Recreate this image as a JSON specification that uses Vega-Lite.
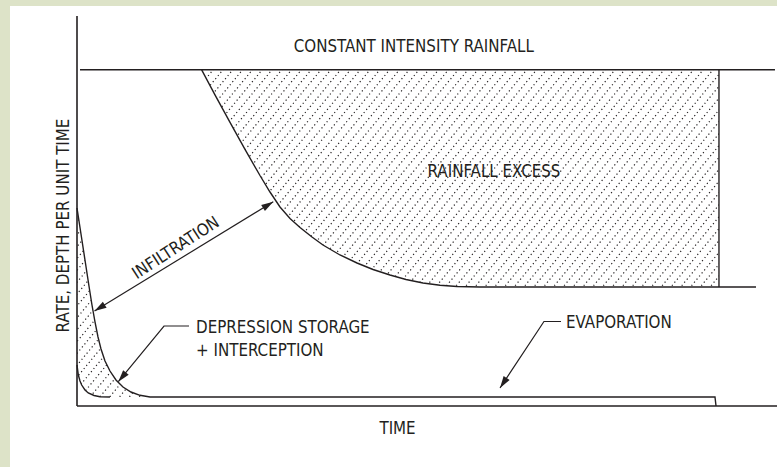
{
  "$schema": "https://vega.github.io/schema/vega-lite/v6.json",
  "width": 700,
  "height": 390,
  "autosize": {"type": "none"},
  "padding": {"left": 77, "top": 16, "right": 0, "bottom": 61},
  "background": "#ffffff",
  "config": {
    "view": {"stroke": null},
    "axis": {"disable": true},
    "text": {"font": "DejaVu Sans Condensed, Liberation Sans, sans-serif", "fontSize": 16.8, "color": "#231f20"}
  },
  "datasets": {
    "green": [{"t": -11, "t2": -9.571, "r": -15.7, "r2": 104.2}, {"t": -11, "t2": 100, "r": 102.56, "r2": 104.2}],
    "hatch": [
      {"t": -27.2, "t2": 18.8}, {"t": -25.8, "t2": 20.2}, {"t": -24.4, "t2": 21.6}, {"t": -23.0, "t2": 23.0}, {"t": -21.6, "t2": 24.4},
      {"t": -20.2, "t2": 25.8}, {"t": -18.8, "t2": 27.2}, {"t": -17.4, "t2": 28.6}, {"t": -16.0, "t2": 30.0}, {"t": -14.6, "t2": 31.4},
      {"t": -13.2, "t2": 32.8}, {"t": -11.8, "t2": 34.2}, {"t": -10.4, "t2": 35.6}, {"t": -9.0, "t2": 37.0}, {"t": -7.6, "t2": 38.4},
      {"t": -6.2, "t2": 39.8}, {"t": -4.8, "t2": 41.2}, {"t": -3.4, "t2": 42.6}, {"t": -2.0, "t2": 44.0}, {"t": -0.6, "t2": 45.4},
      {"t": 0.8, "t2": 46.8}, {"t": 2.2, "t2": 48.2}, {"t": 3.6, "t2": 49.6}, {"t": 5.0, "t2": 51.0}, {"t": 6.4, "t2": 52.4},
      {"t": 7.8, "t2": 53.8}, {"t": 9.2, "t2": 55.2}, {"t": 10.6, "t2": 56.6}, {"t": 12.0, "t2": 58.0}, {"t": 13.4, "t2": 59.4},
      {"t": 14.8, "t2": 60.8}, {"t": 16.2, "t2": 62.2}, {"t": 17.6, "t2": 63.6}, {"t": 19.0, "t2": 65.0}, {"t": 20.4, "t2": 66.4},
      {"t": 21.8, "t2": 67.8}, {"t": 23.2, "t2": 69.2}, {"t": 24.6, "t2": 70.6}, {"t": 26.0, "t2": 72.0}, {"t": 27.4, "t2": 73.4},
      {"t": 28.8, "t2": 74.8}, {"t": 30.2, "t2": 76.2}, {"t": 31.6, "t2": 77.6}, {"t": 33.0, "t2": 79.0}, {"t": 34.4, "t2": 80.4},
      {"t": 35.8, "t2": 81.8}, {"t": 37.2, "t2": 83.2}, {"t": 38.6, "t2": 84.6}, {"t": 40.0, "t2": 86.0}, {"t": 41.4, "t2": 87.4},
      {"t": 42.8, "t2": 88.8}, {"t": 44.2, "t2": 90.2}, {"t": 45.6, "t2": 91.6}, {"t": 47.0, "t2": 93.0}, {"t": 48.4, "t2": 94.4},
      {"t": 49.8, "t2": 95.8}, {"t": 51.2, "t2": 97.2}, {"t": 52.6, "t2": 98.6}, {"t": 54.0, "t2": 100.0}, {"t": 55.4, "t2": 101.4},
      {"t": 56.8, "t2": 102.8}, {"t": 58.2, "t2": 104.2}, {"t": 59.6, "t2": 105.6}, {"t": 61.0, "t2": 107.0}, {"t": 62.4, "t2": 108.4},
      {"t": 63.8, "t2": 109.8}, {"t": 65.2, "t2": 111.2}, {"t": 66.6, "t2": 112.6}, {"t": 68.0, "t2": 114.0}, {"t": 69.4, "t2": 115.4},
      {"t": 70.8, "t2": 116.8}, {"t": 72.2, "t2": 118.2}, {"t": 73.6, "t2": 119.6}, {"t": 75.0, "t2": 121.0}, {"t": 76.4, "t2": 122.4},
      {"t": 77.8, "t2": 123.8}
    ],
    "maskRect": [{"t": 0, "t2": 100, "r": 86.2, "r2": 100}, {"t": 91.71, "t2": 100, "r": 0, "r2": 86.2}],
    "maskC": [
      {"t": 0, "r": 86.2, "r2": 50.77}, {"t": 0.57, "r": 86.2, "r2": 44.10}, {"t": 1.14, "r": 86.2, "r2": 37.44},
      {"t": 1.71, "r": 86.2, "r2": 30.77}, {"t": 2.14, "r": 86.2, "r2": 25.90}, {"t": 2.57, "r": 86.2, "r2": 21.54},
      {"t": 3.0, "r": 86.2, "r2": 17.69}, {"t": 3.43, "r": 86.2, "r2": 14.62}, {"t": 4.0, "r": 86.2, "r2": 11.54},
      {"t": 4.71, "r": 86.2, "r2": 8.97}, {"t": 5.57, "r": 86.2, "r2": 6.67}, {"t": 6.57, "r": 86.2, "r2": 4.87},
      {"t": 7.71, "r": 86.2, "r2": 3.59}, {"t": 9.0, "r": 86.2, "r2": 2.74}, {"t": 10.43, "r": 86.2, "r2": 2.31},
      {"t": 10.6, "r": 86.2, "r2": 0}, {"t": 17.81, "r": 86.2, "r2": 0},
      {"t": 19.71, "r": 79.79, "r2": 0}, {"t": 21.86, "r": 72.74, "r2": 0}, {"t": 24.0, "r": 65.82, "r2": 0},
      {"t": 26.14, "r": 59.10, "r2": 0}, {"t": 27.57, "r": 54.87, "r2": 0}, {"t": 29.0, "r": 51.03, "r2": 0},
      {"t": 30.43, "r": 48.08, "r2": 0}, {"t": 31.86, "r": 45.77, "r2": 0}, {"t": 33.57, "r": 43.33, "r2": 0},
      {"t": 35.14, "r": 41.28, "r2": 0}, {"t": 37.57, "r": 38.72, "r2": 0}, {"t": 40.0, "r": 36.67, "r2": 0},
      {"t": 42.29, "r": 35.0, "r2": 0}, {"t": 44.71, "r": 33.59, "r2": 0}, {"t": 47.0, "r": 32.44, "r2": 0},
      {"t": 49.43, "r": 31.54, "r2": 0}, {"t": 51.86, "r": 30.95, "r2": 0}, {"t": 54.29, "r": 30.64, "r2": 0},
      {"t": 57.57, "r": 30.51, "r2": 0}, {"t": 100, "r": 30.5, "r2": 0}
    ],
    "maskD": [
      {"t": 0, "r": 10.51, "r2": 0}, {"t": 0.19, "r": 7.95, "r2": 0}, {"t": 0.43, "r": 6.41, "r2": 0},
      {"t": 0.67, "r": 5.38, "r2": 0}, {"t": 1.14, "r": 4.10, "r2": 0}, {"t": 1.61, "r": 3.33, "r2": 0},
      {"t": 2.43, "r": 2.69, "r2": 0}, {"t": 3.29, "r": 2.38, "r2": 0}, {"t": 4.71, "r": 2.31, "r2": 0},
      {"t": 12, "r": 2.31, "r2": 0}
    ],
    "axes": [{"t": 0, "t2": 0, "r": 0, "r2": 100}, {"t": 0, "t2": 100, "r": 0, "r2": 0}],
    "excess": [
      {"t": 17.81, "r": 86.2}, {"t": 19.71, "r": 79.79}, {"t": 21.86, "r": 72.74}, {"t": 24.0, "r": 65.82},
      {"t": 26.14, "r": 59.10}, {"t": 27.57, "r": 54.87}, {"t": 29.0, "r": 51.03}, {"t": 30.43, "r": 48.08},
      {"t": 31.86, "r": 45.77}, {"t": 33.57, "r": 43.33}, {"t": 35.14, "r": 41.28}, {"t": 37.57, "r": 38.72},
      {"t": 40.0, "r": 36.67}, {"t": 42.29, "r": 35.0}, {"t": 44.71, "r": 33.59}, {"t": 47.0, "r": 32.44},
      {"t": 49.43, "r": 31.54}, {"t": 51.86, "r": 30.95}, {"t": 54.29, "r": 30.64}, {"t": 57.57, "r": 30.51},
      {"t": 97.0, "r": 30.5}
    ],
    "outer": [
      {"t": 0, "r": 50.77}, {"t": 0.57, "r": 44.10}, {"t": 1.14, "r": 37.44}, {"t": 1.71, "r": 30.77},
      {"t": 2.14, "r": 25.90}, {"t": 2.57, "r": 21.54}, {"t": 3.0, "r": 17.69}, {"t": 3.43, "r": 14.62},
      {"t": 4.0, "r": 11.54}, {"t": 4.71, "r": 8.97}, {"t": 5.57, "r": 6.67}, {"t": 6.57, "r": 4.87},
      {"t": 7.71, "r": 3.59}, {"t": 9.0, "r": 2.74}, {"t": 10.43, "r": 2.31}, {"t": 91.14, "r": 2.31},
      {"t": 91.29, "r": 0}
    ],
    "inner": [
      {"t": 0, "r": 10.51}, {"t": 0.19, "r": 7.95}, {"t": 0.43, "r": 6.41}, {"t": 0.67, "r": 5.38},
      {"t": 1.14, "r": 4.10}, {"t": 1.61, "r": 3.33}, {"t": 2.43, "r": 2.69}, {"t": 3.29, "r": 2.38},
      {"t": 4.71, "r": 2.31}
    ],
    "rain": [{"t": 0.43, "t2": 99.71, "r": 86.2}],
    "edge": [{"t": 91.71, "r": 30.5, "r2": 86.2}],
    "arrowInf": [{"i": 0, "t": 2.5, "r": 24.36}, {"i": 1, "t": 28.04, "r": 52.38}],
    "arrowDep": [{"i": 0, "t": 16.0, "r": 20.51}, {"i": 1, "t": 12.43, "r": 20.51}, {"i": 2, "t": 5.9, "r": 6.23}],
    "arrowEvap": [{"i": 0, "t": 69.14, "r": 21.67}, {"i": 1, "t": 66.71, "r": 21.67}, {"i": 2, "t": 60.43, "r": 4.62}],
    "labelsCenter": [
      {"label": "CONSTANT INTENSITY RAINFALL", "t": 48.11, "r": 90.87},
      {"label": "RAINFALL EXCESS", "t": 59.57, "r": 58.74},
      {"label": "TIME", "t": 45.79, "r": -7.18}
    ],
    "labelsLeft": [
      {"label": "DEPRESSION STORAGE", "t": 17.0, "r": 18.64},
      {"label": "+ INTERCEPTION", "t": 17.0, "r": 12.9},
      {"label": "EVAPORATION", "t": 69.86, "r": 20.0}
    ],
    "labelInf": [{"label": "INFILTRATION", "t": 14.14, "r": 40.51}],
    "labelY": [{"label": "RATE, DEPTH PER UNIT TIME", "t": -1.2, "r": 46.28}]
  },
  "layer": [
    {
      "data": {"name": "hatch"},
      "mark": {"type": "rule", "clip": true, "color": "#231f20", "strokeWidth": 1.2, "strokeDash": [1.2, 2.8]},
      "encoding": {
        "x": {"field": "t", "type": "quantitative", "scale": {"domain": [0, 100], "nice": false, "zero": false}, "axis": null},
        "x2": {"field": "t2"},
        "y": {"datum": 0, "type": "quantitative", "scale": {"domain": [0, 100], "nice": false, "zero": false}, "axis": null},
        "y2": {"datum": 100}
      }
    },
    {
      "data": {"name": "green"},
      "mark": {"type": "rect", "fill": "#dde3c8", "stroke": null},
      "encoding": {
        "x": {"field": "t", "type": "quantitative", "axis": null}, "x2": {"field": "t2"},
        "y": {"field": "r", "type": "quantitative", "axis": null}, "y2": {"field": "r2"}
      }
    },
    {
      "data": {"name": "maskRect"},
      "mark": {"type": "rect", "fill": "#ffffff", "stroke": null},
      "encoding": {
        "x": {"field": "t", "type": "quantitative", "axis": null}, "x2": {"field": "t2"},
        "y": {"field": "r", "type": "quantitative", "axis": null}, "y2": {"field": "r2"}
      }
    },
    {
      "data": {"name": "maskC"},
      "mark": {"type": "area", "fill": "#ffffff", "opacity": 1, "interpolate": "linear"},
      "encoding": {
        "x": {"field": "t", "type": "quantitative", "axis": null},
        "y": {"field": "r", "type": "quantitative", "axis": null}, "y2": {"field": "r2"}
      }
    },
    {
      "data": {"name": "maskD"},
      "mark": {"type": "area", "fill": "#ffffff", "opacity": 1, "interpolate": "linear"},
      "encoding": {
        "x": {"field": "t", "type": "quantitative", "axis": null},
        "y": {"field": "r", "type": "quantitative", "axis": null}, "y2": {"field": "r2"}
      }
    },
    {
      "data": {"name": "axes"},
      "mark": {"type": "rule", "color": "#231f20", "strokeWidth": 1.6},
      "encoding": {
        "x": {"field": "t", "type": "quantitative", "axis": null}, "x2": {"field": "t2"},
        "y": {"field": "r", "type": "quantitative", "axis": null}, "y2": {"field": "r2"}
      }
    },
    {
      "data": {"name": "rain"},
      "mark": {"type": "rule", "color": "#231f20", "strokeWidth": 1.4},
      "encoding": {
        "x": {"field": "t", "type": "quantitative", "axis": null}, "x2": {"field": "t2"},
        "y": {"field": "r", "type": "quantitative", "axis": null}
      }
    },
    {
      "data": {"name": "edge"},
      "mark": {"type": "rule", "color": "#231f20", "strokeWidth": 1.4},
      "encoding": {
        "x": {"field": "t", "type": "quantitative", "axis": null},
        "y": {"field": "r", "type": "quantitative", "axis": null}, "y2": {"field": "r2"}
      }
    },
    {
      "data": {"name": "excess"},
      "mark": {"type": "line", "color": "#231f20", "strokeWidth": 1.4, "interpolate": "linear"},
      "encoding": {
        "x": {"field": "t", "type": "quantitative", "axis": null},
        "y": {"field": "r", "type": "quantitative", "axis": null}
      }
    },
    {
      "data": {"name": "outer"},
      "mark": {"type": "line", "color": "#231f20", "strokeWidth": 1.4, "interpolate": "linear"},
      "encoding": {
        "x": {"field": "t", "type": "quantitative", "axis": null},
        "y": {"field": "r", "type": "quantitative", "axis": null}
      }
    },
    {
      "data": {"name": "inner"},
      "mark": {"type": "line", "color": "#231f20", "strokeWidth": 1.4, "interpolate": "linear"},
      "encoding": {
        "x": {"field": "t", "type": "quantitative", "axis": null},
        "y": {"field": "r", "type": "quantitative", "axis": null}
      }
    },
    {
      "data": {"name": "arrowInf"},
      "mark": {"type": "line", "color": "#231f20", "strokeWidth": 1.2},
      "encoding": {
        "x": {"field": "t", "type": "quantitative", "axis": null},
        "y": {"field": "r", "type": "quantitative", "axis": null},
        "order": {"field": "i"}
      }
    },
    {
      "data": {"name": "arrowDep"},
      "mark": {"type": "line", "color": "#231f20", "strokeWidth": 1.2},
      "encoding": {
        "x": {"field": "t", "type": "quantitative", "axis": null},
        "y": {"field": "r", "type": "quantitative", "axis": null},
        "order": {"field": "i"}
      }
    },
    {
      "data": {"name": "arrowEvap"},
      "mark": {"type": "line", "color": "#231f20", "strokeWidth": 1.2},
      "encoding": {
        "x": {"field": "t", "type": "quantitative", "axis": null},
        "y": {"field": "r", "type": "quantitative", "axis": null},
        "order": {"field": "i"}
      }
    },
    {
      "data": {"name": "arrowInf"},
      "transform": [{"filter": "datum.i == 1"}],
      "mark": {"type": "point", "shape": "M0,0L-0.3,1L0.3,1Z", "size": 576, "filled": true, "fill": "#231f20", "strokeWidth": 0, "opacity": 1, "angle": 58.56},
      "encoding": {
        "x": {"field": "t", "type": "quantitative", "axis": null},
        "y": {"field": "r", "type": "quantitative", "axis": null}
      }
    },
    {
      "data": {"name": "arrowInf"},
      "transform": [{"filter": "datum.i == 0"}],
      "mark": {"type": "point", "shape": "M0,0L-0.3,1L0.3,1Z", "size": 576, "filled": true, "fill": "#231f20", "strokeWidth": 0, "opacity": 1, "angle": 238.56},
      "encoding": {
        "x": {"field": "t", "type": "quantitative", "axis": null},
        "y": {"field": "r", "type": "quantitative", "axis": null}
      }
    },
    {
      "data": {"name": "arrowDep"},
      "transform": [{"filter": "datum.i == 2"}],
      "mark": {"type": "point", "shape": "M0,0L-0.3,1L0.3,1Z", "size": 576, "filled": true, "fill": "#231f20", "strokeWidth": 0, "opacity": 1, "angle": 219.4},
      "encoding": {
        "x": {"field": "t", "type": "quantitative", "axis": null},
        "y": {"field": "r", "type": "quantitative", "axis": null}
      }
    },
    {
      "data": {"name": "arrowEvap"},
      "transform": [{"filter": "datum.i == 2"}],
      "mark": {"type": "point", "shape": "M0,0L-0.3,1L0.3,1Z", "size": 576, "filled": true, "fill": "#231f20", "strokeWidth": 0, "opacity": 1, "angle": 213.5},
      "encoding": {
        "x": {"field": "t", "type": "quantitative", "axis": null},
        "y": {"field": "r", "type": "quantitative", "axis": null}
      }
    },
    {
      "data": {"name": "labelsCenter"},
      "mark": {"type": "text", "align": "center", "baseline": "alphabetic"},
      "encoding": {
        "x": {"field": "t", "type": "quantitative", "axis": null},
        "y": {"field": "r", "type": "quantitative", "axis": null},
        "text": {"field": "label"}
      }
    },
    {
      "data": {"name": "labelsLeft"},
      "mark": {"type": "text", "align": "left", "baseline": "alphabetic"},
      "encoding": {
        "x": {"field": "t", "type": "quantitative", "axis": null},
        "y": {"field": "r", "type": "quantitative", "axis": null},
        "text": {"field": "label"}
      }
    },
    {
      "data": {"name": "labelInf"},
      "mark": {"type": "text", "align": "center", "baseline": "middle", "angle": -33},
      "encoding": {
        "x": {"field": "t", "type": "quantitative", "axis": null},
        "y": {"field": "r", "type": "quantitative", "axis": null},
        "text": {"field": "label"}
      }
    },
    {
      "data": {"name": "labelY"},
      "mark": {"type": "text", "align": "center", "baseline": "alphabetic", "angle": 270},
      "encoding": {
        "x": {"field": "t", "type": "quantitative", "axis": null},
        "y": {"field": "r", "type": "quantitative", "axis": null},
        "text": {"field": "label"}
      }
    }
  ]
}
